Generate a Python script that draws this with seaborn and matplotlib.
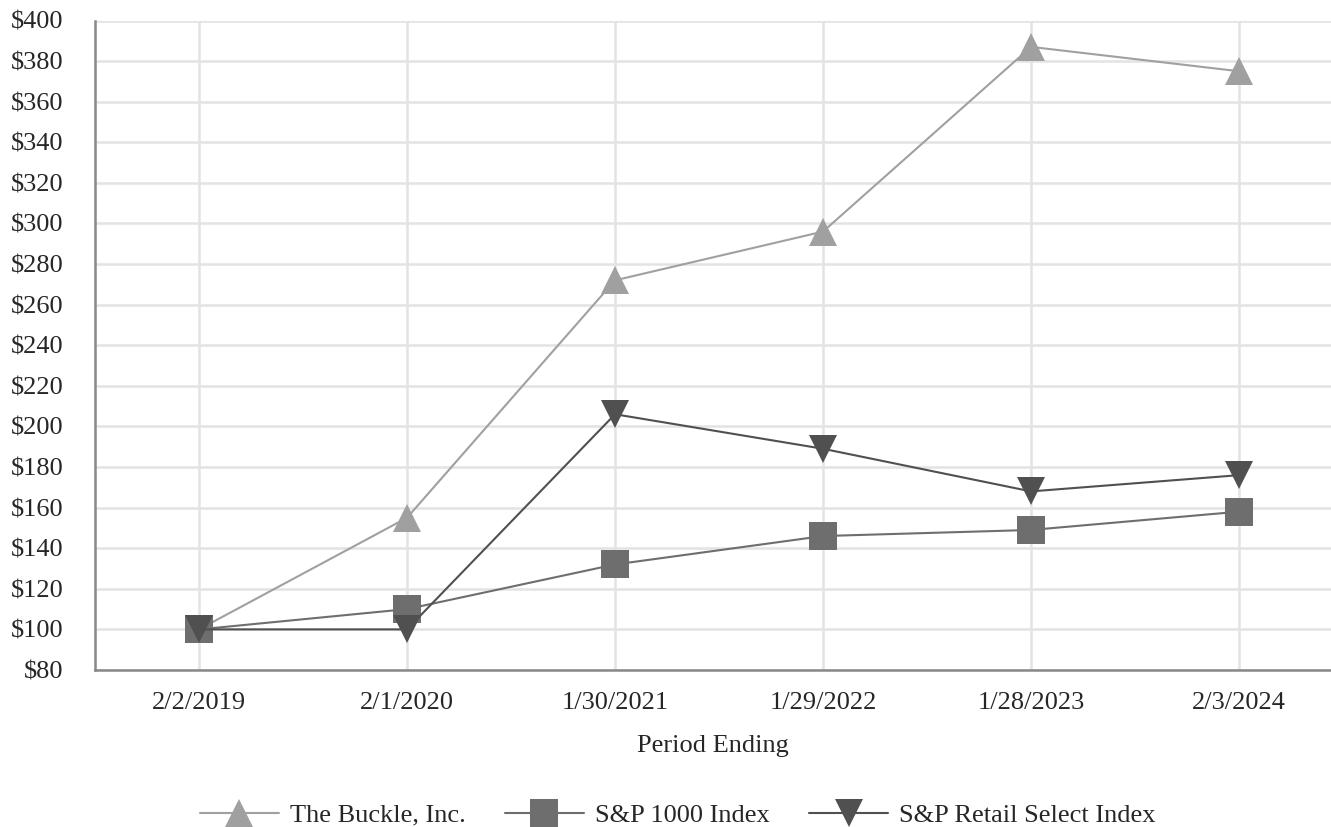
import numpy as np
import pandas as pd
import matplotlib
matplotlib.use('Agg')
import matplotlib.pyplot as plt
import seaborn as sns

periods = ['2/2/2019', '2/1/2020', '1/30/2021', '1/29/2022', '1/28/2023', '2/3/2024']
buckle = [100, 155, 272, 296, 387, 375]
sp1000 = [100, 110, 132, 146, 149, 158]
retail = [100, 100, 206, 189, 168, 176]

series_names = ['The Buckle, Inc.', 'S&P 1000 Index', 'S&P Retail Select Index']
colors = ['#a0a0a0', '#6e6e6e', '#505050']
markers = ['^', 's', 'v']

df = pd.DataFrame({
    'pos': list(range(len(periods))) * 3,
    'value': buckle + sp1000 + retail,
    'series': [n for n in series_names for _ in periods],
})

sns.set_style('white')
plt.rcParams['font.family'] = ['Liberation Serif', 'DejaVu Serif']
fs = 19

fig = plt.figure(figsize=(13.31, 8.27), dpi=100)
ax = fig.add_axes([95 / 1331, 157 / 827, 1236 / 1331, 649.5 / 827])

for name, col, mk in zip(series_names, colors, markers):
    sub = df[df['series'] == name]
    sns.lineplot(data=sub, x='pos', y='value', ax=ax, color=col, marker=mk,
                 markersize=20, markeredgewidth=0, linewidth=1.5, label=name,
                 zorder=3)

ax.set_xlim(-0.5, 5.442)
ax.set_ylim(80, 400)
ax.set_xticks(range(len(periods)))
ax.set_xticklabels(periods, fontsize=fs)
ax.set_yticks(np.arange(80, 401, 20))
ax.set_yticklabels([f'${v}' for v in range(80, 401, 20)], fontsize=fs)
ax.grid(True, color='#e3e3e3', linewidth=1.8)
ax.set_axisbelow(True)
for s in ['top', 'right']:
    ax.spines[s].set_visible(False)
for s in ['left', 'bottom']:
    ax.spines[s].set_color('#888888')
    ax.spines[s].set_linewidth(1.8)
ax.tick_params(axis='x', length=8, width=1.8, color='#888888', pad=8)
ax.tick_params(axis='y', length=8.5, width=1.8, color='#888888', pad=14)
ax.set_xlabel('Period Ending', fontsize=fs, labelpad=15)
ax.set_ylabel('')

ax.get_legend().remove()
handles, labels = ax.get_legend_handles_labels()
fig.legend(handles, labels, loc='center', bbox_to_anchor=(677.5 / 1331, 1 - 815 / 827),
           ncol=3, frameon=False, fontsize=fs, handlelength=3.0, columnspacing=1.5,
           handletextpad=0.4)

fig.savefig('out.png', dpi=100)
